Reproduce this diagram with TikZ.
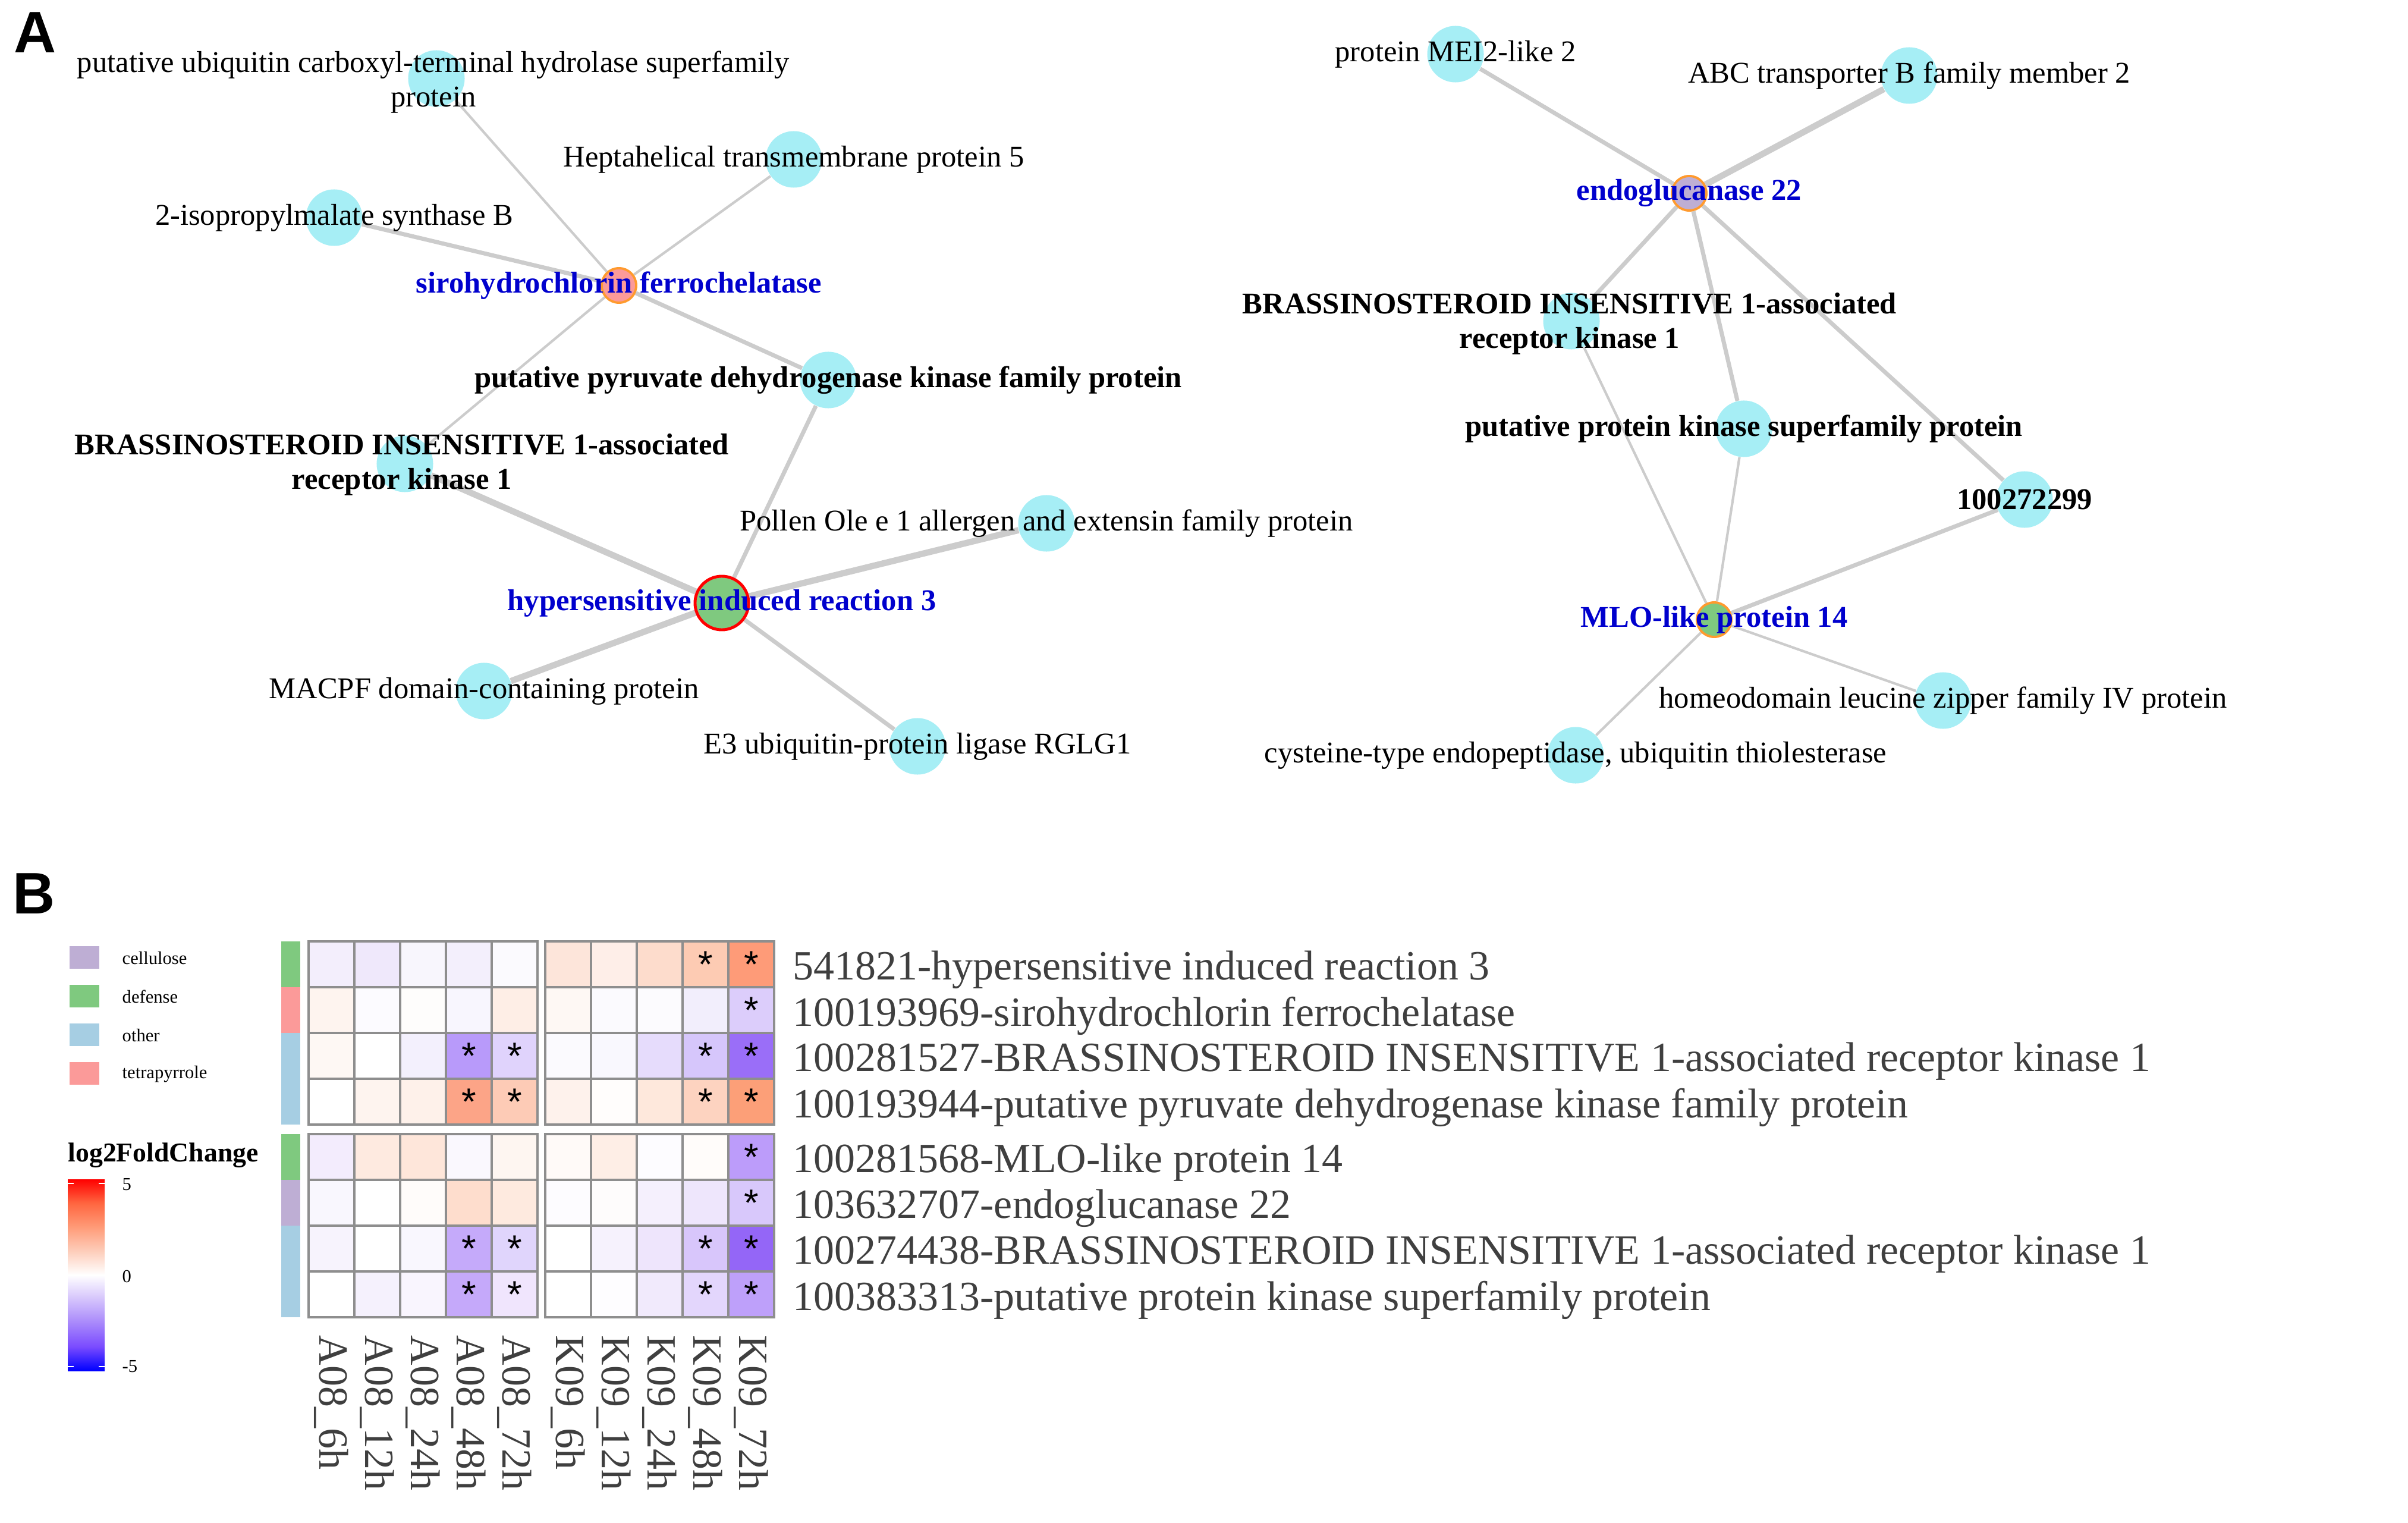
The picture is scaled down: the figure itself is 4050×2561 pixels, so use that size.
\documentclass[tikz,border=0pt]{standalone}
\usepackage{fontspec}
\setmainfont{Liberation Serif}
\newfontfamily\labelsans{Liberation Sans}

\definecolor{genecyan}{HTML}{A6EEF5}
\definecolor{edgegray}{HTML}{CCCCCC}
\definecolor{hubblue}{HTML}{0000CD}
\definecolor{hubedge}{HTML}{FF9A2E}
\definecolor{grpcellulose}{HTML}{BEAED4}
\definecolor{grpdefense}{HTML}{7FC97F}
\definecolor{grpother}{HTML}{A6CEE3}
\definecolor{grptetrapyrrole}{HTML}{FB9A99}
\definecolor{gridgray}{HTML}{8E8E8E}
\definecolor{labelgray}{HTML}{3F3F3F}
\definecolor{lfcm3}{HTML}{7A4BFF}
\definecolor{lfcm2}{HTML}{A888FB}
\definecolor{lfcm1}{HTML}{D5C4FC}
\definecolor{lfcp1}{HTML}{FDCDBA}
\definecolor{lfcp2}{HTML}{FF9B78}
\definecolor{lfcp3}{HTML}{FF6640}

\pgfdeclareverticalshading{lfcbar}{100bp}{color(0bp)=(blue); color(25bp)=(blue);
  color(31.25bp)=(lfcm3); color(37.5bp)=(lfcm2); color(43.75bp)=(lfcm1);
  color(50bp)=(white); color(56.25bp)=(lfcp1); color(62.5bp)=(lfcp2);
  color(68.75bp)=(lfcp3); color(75bp)=(red); color(100bp)=(red)}

\pgfdeclarelayer{edgelayer}
\pgfsetlayers{edgelayer,main}

\begin{document}
\begin{tikzpicture}[x=0.01cm, y=-0.01cm,
    gene/.style={circle, fill=genecyan, minimum size=0.95cm, inner sep=0pt},
    hub/.style={circle, minimum size=0.58cm, inner sep=0pt, draw=hubedge, line width=1.1pt},
    lbl/.style={font=\fontsize{14.4}{16.5}\selectfont, align=center, inner sep=0pt},
    deg/.style={lbl, font=\fontsize{14.4}{16.5}\selectfont\bfseries},
    hublbl/.style={deg, text=hubblue},
    ppi/.style={draw=edgegray},
    e1/.style={ppi, line width=1.2pt},
    e2/.style={ppi, line width=2pt},
    e3/.style={ppi, line width=3pt},
    cell/.style={draw=gridgray, line width=1pt},
    sig/.style={font=\labelsans\fontsize{18}{18}\selectfont, inner sep=0pt},
    rowlbl/.style={font=\fontsize{19.9}{22}\selectfont, text=labelgray, anchor=west, inner sep=0pt},
    collbl/.style={rowlbl, rotate=-90},
    legtxt/.style={font=\fontsize{8.7}{10}\selectfont, anchor=west, inner sep=0pt},
    panel/.style={font=\labelsans\bfseries\fontsize{28}{28}\selectfont, inner sep=0pt}]
    \useasboundingbox (0,0) rectangle (4050,2561);

    % Panel letters
    \node[panel] (pa) at (59,55) {A};
    \node[panel] (pb) at (57,1503) {B};

    % Left network: genes
    \node[gene] (ubiq) at (734,132) {};
    \node[gene] (hept) at (1335,268) {};
    \node[gene] (ipms) at (562,366) {};
    \node[hub, fill=grptetrapyrrole] (siro) at (1041,480) {};
    \node[gene] (pdk) at (1393,639) {};
    \node[gene] (bri1) at (681,780) {};
    \node[gene] (pollen) at (1760,880) {};
    \node[hub, fill=grpdefense, draw=red, line width=1.4pt, minimum size=0.9cm] (hir) at (1214,1014) {};
    \node[gene] (macpf) at (814,1162) {};
    \node[gene] (e3) at (1543,1255) {};

    % Right network: genes
    \node[gene] (mei) at (2448,91) {};
    \node[gene] (abc) at (3211,127) {};
    \node[hub, fill=grpcellulose] (egl) at (2841,325) {};
    \node[gene] (bri2) at (2643,540) {};
    \node[gene] (pks) at (2933,721) {};
    \node[gene] (num) at (3405,840) {};
    \node[hub, fill=grpdefense] (mlo) at (2883,1042) {};
    \node[gene] (hdzip) at (3268,1178) {};
    \node[gene] (cys) at (2650,1270) {};

    % Interactions
    \begin{pgfonlayer}{edgelayer}
        \draw[e1] (siro) -- (ubiq);
        \draw[e1] (siro) -- (hept);
        \draw[e2] (siro) -- (ipms);
        \draw[e2] (siro) -- (pdk);
        \draw[e1] (siro) -- (bri1);
        \draw[e2] (hir) -- (pdk);
        \draw[e3] (hir) -- (bri1);
        \draw[e3] (hir) -- (pollen);
        \draw[e3] (hir) -- (macpf);
        \draw[e2] (hir) -- (e3);

        \draw[e2] (egl) -- (mei);
        \draw[e3] (egl) -- (abc);
        \draw[e2] (egl) -- (bri2);
        \draw[e2] (egl) -- (pks);
        \draw[e2] (egl) -- (num);
        \draw[e1] (bri2) -- (mlo);
        \draw[e1] (pks) -- (mlo);
        \draw[e2] (num) -- (mlo);
        \draw[e1] (mlo) -- (hdzip);
        \draw[e1] (mlo) -- (cys);
    \end{pgfonlayer}

    % Gene labels
    \node[lbl] (ubiq-t) at (729,138) {putative ubiquitin carboxyl-terminal hydrolase superfamily\\protein};
    \node[lbl] (hept-t) at (hept) {Heptahelical transmembrane protein 5};
    \node[lbl] (ipms-t) at (ipms) {2-isopropylmalate synthase B};
    \node[hublbl] (siro-t) at (siro) {sirohydrochlorin ferrochelatase};
    \node[deg] (pdk-t) at (pdk) {putative pyruvate dehydrogenase kinase family protein};
    \node[deg] (bri1-t) at (676,781) {BRASSINOSTEROID INSENSITIVE 1-associated\\receptor kinase 1};
    \node[lbl] (pollen-t) at (pollen) {Pollen Ole e 1 allergen and extensin family protein};
    \node[hublbl] (hir-t) at (hir) {hypersensitive induced reaction 3};
    \node[lbl] (macpf-t) at (macpf) {MACPF domain-containing protein};
    \node[lbl] (e3-t) at (e3) {E3 ubiquitin-protein ligase RGLG1};

    \node[lbl] (mei-t) at (mei) {protein MEI2-like 2};
    \node[lbl] (abc-t) at (abc) {ABC transporter B family member 2};
    \node[hublbl] (egl-t) at (egl) {endoglucanase 22};
    \node[deg] (bri2-t) at (2640,544) {BRASSINOSTEROID INSENSITIVE 1-associated\\receptor kinase 1};
    \node[deg] (pks-t) at (pks) {putative protein kinase superfamily protein};
    \node[deg] (num-t) at (num) {100272299};
    \node[hublbl] (mlo-t) at (mlo) {MLO-like protein 14};
    \node[lbl] (hdzip-t) at (hdzip) {homeodomain leucine zipper family IV protein};
    \node[lbl] (cys-t) at (cys) {cysteine-type endopeptidase, ubiquitin thiolesterase};

    % Legend: groups
    \foreach \grp [count=\k] in {cellulose,defense,other,tetrapyrrole}{
        \pgfmathsetmacro\ly{1591+65*(\k-1)}
        \fill[grp\grp] (117,\ly) rectangle ++(50,38);
        \node[legtxt] (leg\k) at (205,\ly+20) {\grp};
    }

    % Legend: log2FoldChange
    \node[legtxt, font=\fontsize{13}{15}\selectfont\bfseries] (lfc) at (114,1943) {log2FoldChange};
    \shade[shading=lfcbar] (114,1983) rectangle (176,2305);
    \draw[white, line width=0.6pt] (114,1990) -- ++(10,0) (166,1990) -- ++(10,0)
        (114,2298) -- ++(10,0) (166,2298) -- ++(10,0);
    \node[legtxt] (tk5) at (205,1992) {5};
    \node[legtxt] (tk0) at (205,2146) {0};
    \node[legtxt] (tkm5) at (205,2298) {-5};

    % Heatmap: group bar, cells, gene names
    \foreach \row/\grp/\gname/\cells in {
        1/defense/541821-hypersensitive induced reaction 3/{F3EEFC,EFE8FB,F8F6FD,F3EFFC,FBFAFE,FDE5DA,FEEEE8,FDDCCC,FDCBB3,FE9B78},
        2/tetrapyrrole/100193969-sirohydrochlorin ferrochelatase/{FEF4EF,FCFBFF,FEFDFC,F8F6FE,FEEEE6,FEF8F4,FBFAFE,FCFBFE,F2EEFC,DCCDFB},
        3/other/100281527-BRASSINOSTEROID INSENSITIVE 1-associated receptor kinase 1/{FEF8F4,FFFFFF,F3F0FD,B89AFA,E0D3FC,FBFAFE,F9F8FE,E6DCFC,D6C6FB,9A6EF8},
        4/other/100193944-putative pyruvate dehydrogenase kinase family protein/{FFFFFF,FEF4EF,FEF1EA,FCA487,FDCBB6,FEF2EC,FFFDFC,FEE8DC,FDD3C0,FC9F78},
        5/defense/100281568-MLO-like protein 14/{F3ECFD,FEEAE0,FEE6DA,FAF8FE,FEF6F1,FFFAF8,FEEEE6,FDFCFF,FFFCFA,BC9CFA},
        6/cellulose/103632707-endoglucanase 22/{F9F7FE,FFFFFF,FFFCFA,FEDDCD,FEEADF,FDFCFF,FEFCFC,F5F0FD,EEE6FC,D8C8FB},
        7/other/100274438-BRASSINOSTEROID INSENSITIVE 1-associated receptor kinase 1/{F7F3FD,FFFFFF,F9F7FE,C5AAFA,E0D5FC,FFFFFF,F6F2FD,EEE5FC,D8C6FB,9466F7},
        8/other/100383313-putative protein kinase superfamily protein/{FFFFFF,F5F1FD,F9F5FE,C5A9FA,F0E5FD,FFFFFF,FEFDFF,F1EAFC,E3D6FC,BEA0FA}}{
        \pgfmathsetmacro\ytop{\row<5 ? 1583+77*(\row-1) : 1907+77*(\row-5)}
        \fill[grp\grp] (473,\ytop) rectangle ++(32,77);
        \foreach \c [count=\col] in \cells {
            \pgfmathsetmacro\xl{\col<6 ? 519+77*(\col-1) : 917+77*(\col-6)}
            \definecolor{cellfill}{HTML}{\c}
            \draw[cell, fill=cellfill] (\xl,\ytop) rectangle ++(77,77);
        }
        \node[rowlbl] (gene\row) at (1333,\ytop+48) {\gname};
    }

    % Significance marks
    \foreach \row/\col in {1/9,1/10,2/10,3/4,3/5,3/9,3/10,4/4,4/5,4/9,4/10,
                           5/10,6/10,7/4,7/5,7/9,7/10,8/4,8/5,8/9,8/10}{
        \pgfmathsetmacro\ytop{\row<5 ? 1583+77*(\row-1) : 1907+77*(\row-5)}
        \pgfmathsetmacro\xl{\col<6 ? 519+77*(\col-1) : 917+77*(\col-6)}
        \node[sig] (sig-\row-\col) at (\xl+38.5,\ytop+38.5) {*};
    }

    % Sample names
    \foreach \smp [count=\col] in {A08\_6h,A08\_12h,A08\_24h,A08\_48h,A08\_72h,
                                   K09\_6h,K09\_12h,K09\_24h,K09\_48h,K09\_72h}{
        \pgfmathsetmacro\xl{\col<6 ? 519+77*(\col-1) : 917+77*(\col-6)}
        \node[collbl] (smp\col) at (\xl+38.5,2245) {\smp};
    }
\end{tikzpicture}
\end{document}
